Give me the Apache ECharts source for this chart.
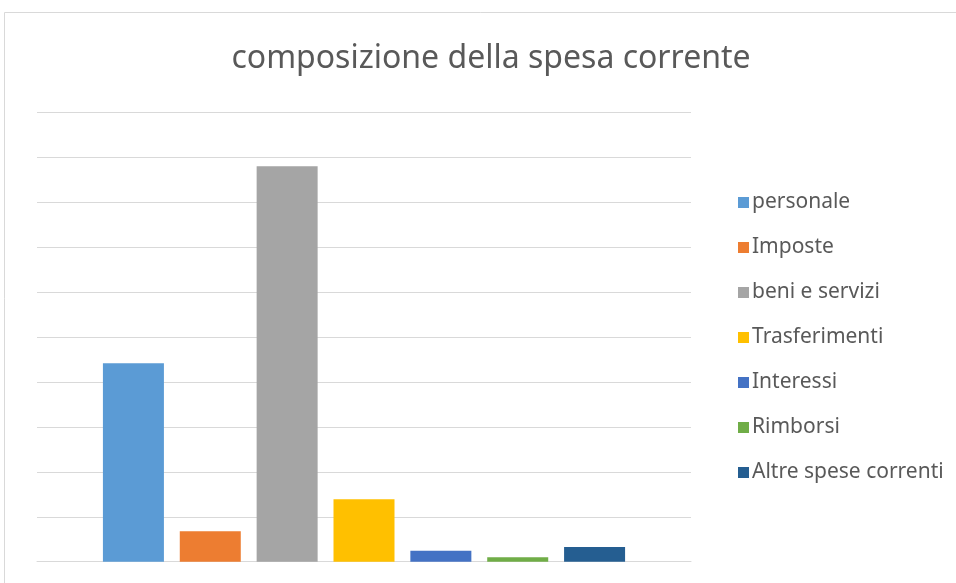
<!DOCTYPE html>
<html><head><meta charset="utf-8">
<script src="https://cdn.jsdelivr.net/npm/echarts@6/dist/echarts.min.js"></script>
<style>html,body{margin:0;padding:0;background:#fff}#c{width:956px;height:583px}</style>
</head><body><div id="c"></div>
<script>
const titleText = 'composizione della spesa corrente';
const seriesNames = ['personale','Imposte','beni e servizi','Trasferimenti','Interessi','Rimborsi','Altre spese correnti'];
const seriesValues = [4.42, 0.68, 8.81, 1.39, 0.245, 0.098, 0.33];
const seriesColors = ['#5b9bd5','#ed7d31','#a5a5a5','#ffc000','#4472c4','#70ad47','#255e91'];
const categories = [''];

const chart = echarts.init(document.getElementById('c'), null, {renderer:'canvas'});
const font = 'Noto Sans';
chart.setOption({
  animation:false,
  backgroundColor:'#fff',
  graphic:[{type:'rect', shape:{x:4.5,y:12.5,width:1200,height:1200}, style:{fill:'none', stroke:'#d9d9d9', lineWidth:1}, silent:true}],
  title:{text:titleText, left:486, top:38, textAlign:'center',
    textStyle:{fontFamily:font, fontSize:32, fontWeight:'normal', color:'#595959'}},
  legend:{orient:'vertical', left:733, top:187, itemWidth:11, itemHeight:11, itemGap:24,
    icon:'rect', data:seriesNames,
    textStyle:{fontFamily:font, fontSize:21, color:'#595959', padding:[0,0,0,-2]}},
  grid:{left:37, right:265, top:112.7, bottom:21.3, containLabel:false},
  xAxis:{type:'category', data:categories, axisLine:{lineStyle:{color:'#d9d9d9'}}, axisTick:{show:false}, axisLabel:{show:false}},
  yAxis:{type:'value', min:0, max:10, interval:1, axisLabel:{show:false}, axisLine:{show:false}, axisTick:{show:false},
    splitLine:{lineStyle:{color:'#d9d9d9', width:1}}},
  series: seriesNames.map((n,i)=>({name:n, type:'bar', data:[seriesValues[i]], barWidth:61, barGap:'26%',
    itemStyle:{color:seriesColors[i]}}))
});
</script></body></html>
